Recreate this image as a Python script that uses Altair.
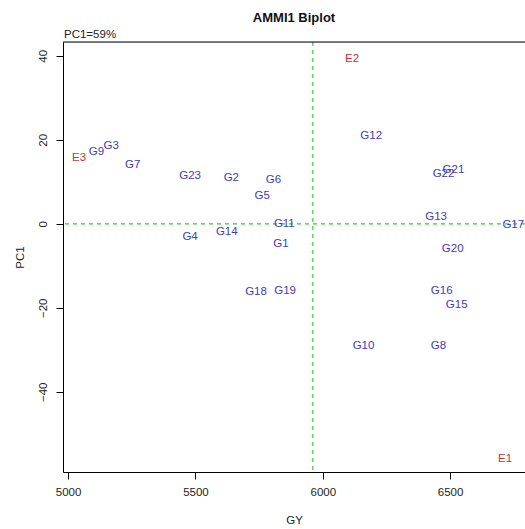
import altair as alt
import pandas as pd

names = ["E1", "E2", "E3",
         "G1", "G2", "G3", "G4", "G5", "G6", "G7", "G8", "G9", "G10", "G11", "G12",
         "G13", "G14", "G15", "G16", "G17", "G18", "G19", "G20", "G21", "G22", "G23"]
gy = [6716, 6115, 5043,
      5836, 5641, 5169, 5479, 5762, 5806, 5254, 6454, 5111, 6160, 5849, 6190,
      6445, 5623, 6526, 6467, 6748, 5738, 5852, 6510, 6513, 6474, 5479]
pc1 = [-55.9, 39.2, 15.7,
       -4.7, 11.0, 18.6, -3.2, 6.6, 10.4, 14.0, -29.1, 17.0, -29.1, -0.1, 20.9,
       1.6, -2.0, -19.4, -15.9, -0.3, -16.2, -16.0, -6.1, 12.9, 11.8, 11.4]
kinds = ["Environment" if n.startswith("E") else "Genotype" for n in names]

mean_gy = [5961]
zero_pc = [0]
x_ticks = [5000, 5500, 6000, 6500]
y_ticks = [-40, -20, 0, 20, 40]

df = pd.DataFrame({"name": names, "GY": gy, "PC1": pc1, "kind": kinds})

W, H = 462, 430
FONT = "Liberation Sans"

xs = alt.Scale(domain=[4980, 6794], nice=False, zero=False)
ys = alt.Scale(domain=[-59.1, 43.3], nice=False, zero=False)

base = alt.Chart(df)

labels = base.mark_text(font=FONT, fontSize=11.5, clip=True).encode(
    x=alt.X("GY:Q", scale=xs, title="GY",
            axis=alt.Axis(values=x_ticks, grid=False, tickSize=7, labelPadding=7,
                          titlePadding=17, domainColor="#000", tickColor="#000",
                          labelColor="#222", titleColor="#222", labelFont=FONT,
                          titleFont=FONT, labelFontSize=11.5, titleFontSize=11.5,
                          titleFontWeight="normal", format="d", labelFlush=False)),
    y=alt.Y("PC1:Q", scale=ys, title="PC1",
            axis=alt.Axis(values=y_ticks, grid=False, tickSize=7, labelPadding=8,
                          labelAngle=270, labelAlign="center", labelBaseline="bottom",
                          titlePadding=12, domainColor="#000", tickColor="#000",
                          labelColor="#222", titleColor="#222", labelFont=FONT,
                          titleFont=FONT, labelFontSize=11.5, titleFontSize=11.5,
                          titleFontWeight="normal", labelFlush=False)),
    text="name:N",
    color=alt.Color("kind:N", scale=alt.Scale(domain=["Environment", "Genotype"],
                                              range=["#d03030", "#3b3bc4"]),
                    legend=None),
)

vline = alt.Chart(pd.DataFrame({"GY": mean_gy})).mark_rule(
    color="#33cc33", strokeDash=[4, 4], strokeWidth=1.2).encode(x=alt.X("GY:Q", scale=xs))
hline = alt.Chart(pd.DataFrame({"PC1": zero_pc})).mark_rule(
    color="#33cc33", strokeDash=[4, 4], strokeWidth=1.2).encode(y=alt.Y("PC1:Q", scale=ys))

top_border = alt.Chart(pd.DataFrame({"a": [0]})).mark_rule(color="#000", strokeWidth=1).encode(
    y=alt.value(0), x=alt.value(0), x2=alt.value(W))

pc_label = alt.Chart(pd.DataFrame({"t": ["PC1=59%"]})).mark_text(
    font=FONT, fontSize=11.5, align="left", baseline="bottom", color="#222").encode(
    text="t:N", x=alt.value(1), y=alt.value(-2))

chart = alt.layer(vline, hline, labels, top_border, pc_label).properties(
    width=W, height=H,
    title=alt.TitleParams("AMMI1 Biplot", font=FONT, fontSize=13, fontWeight="bold",
                          color="#111", anchor="middle", offset=4),
    autosize=alt.AutoSizeParams(type="none"),
    padding={"left": 63, "top": 42, "right": 0, "bottom": 57},
).configure_view(stroke=None).configure(background="white")

chart.save("out.html", embed_options={"renderer": "svg", "actions": False})
